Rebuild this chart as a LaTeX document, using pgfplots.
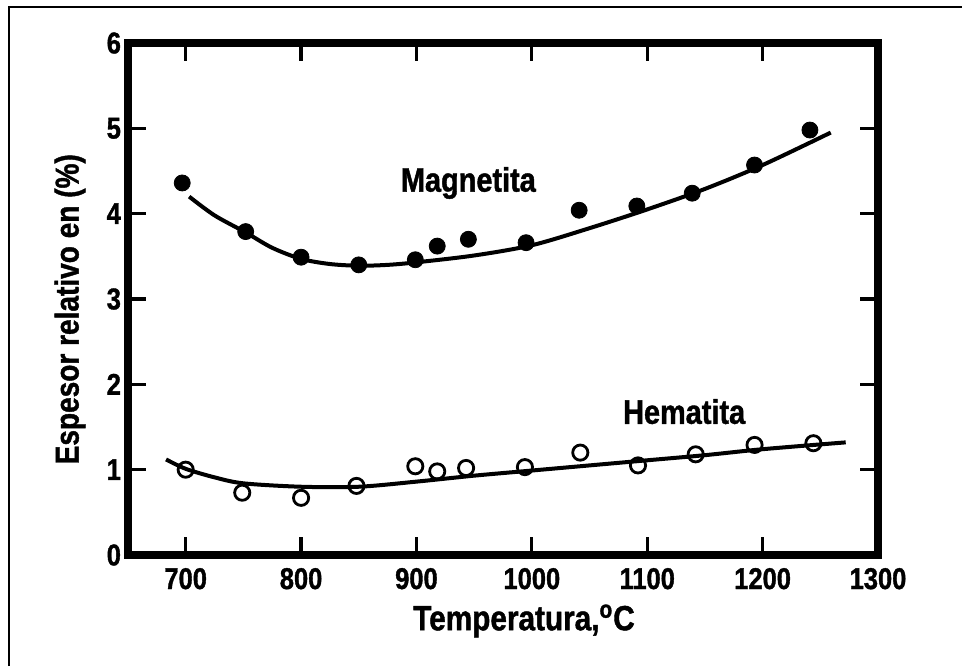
\documentclass[border=0pt]{standalone}
\usepackage{fontspec}
\setmainfont{Liberation Sans}[FakeStretch=0.85, BoldFeatures={FakeBold=1.2}]
\usepackage{pgfplots}
\pgfplotsset{compat=1.18}
\begin{document}
\begin{tikzpicture}
\useasboundingbox (0,0) rectangle (481pt,333pt);
\draw[line width=1.4pt] (4.5pt,0) -- (4.5pt,329.5pt) -- (481pt,329.5pt);
\begin{axis}[
  at={(64pt,55.5pt)}, anchor=south west,
  scale only axis, width=375pt, height=256pt,
  xmin=650, xmax=1300, ymin=0, ymax=6,
  xtick={700,800,...,1300}, ytick={0,1,...,6},
  tick align=inside, major tick length=9pt,
  axis line style={line width=4pt, line cap=rect},
  every tick/.style={line width=1.6pt, black},
  /pgf/number format/1000 sep={},
  /pgf/number format/assume math mode=true,
  ticklabel style={font=\bfseries\fontsize{15}{15}\selectfont},
  xticklabel style={yshift=-3pt},
  xlabel={Temperatura,\textsuperscript{o}C},
  ylabel={Espesor relativo en (\%)},
  xlabel style={font=\bfseries\fontsize{17.5}{17.5}\selectfont, at={(axis description cs:0.528,0)}, anchor=center, yshift=-33pt},
  ylabel style={font=\bfseries\fontsize{16.5}{16.5}\selectfont, at={(axis description cs:-0.0773,0.48)}, anchor=center},
  clip=false,
]
% Magnetita fitted curve
\addplot[black, line width=2pt, smooth] coordinates {
 (703,4.20) (725,3.98) (752,3.78) (775,3.60) (800,3.47) (825,3.41) (850,3.39)
 (875,3.40) (900,3.43) (950,3.51) (1000,3.63) (1050,3.83) (1100,4.05)
 (1150,4.29) (1200,4.57) (1259,4.95)};
% Hematita fitted curve
\addplot[black, line width=2pt, smooth] coordinates {
 (683,1.12) (700,1.01) (725,0.91) (750,0.84) (800,0.80) (850,0.80) (900,0.86)
 (950,0.93) (1000,0.99) (1050,1.05) (1100,1.11) (1150,1.17) (1200,1.24) (1272,1.32)};
% Magnetita data
\addplot[only marks, mark=*, mark size=4pt, black] coordinates {
 (697,4.36) (752,3.79) (800,3.49) (850,3.40) (899,3.46) (918,3.62) (945,3.70)
 (995,3.66) (1041,4.04) (1091,4.09) (1139,4.24) (1193,4.57) (1241,4.98)};
% Hematita data
\addplot[only marks, mark=o, mark size=3.8pt, black, line width=1.4pt] coordinates {
 (700,1.00) (749,0.73) (800,0.67) (848,0.81) (899,1.04) (918,0.98) (943,1.02)
 (994,1.03) (1042,1.20) (1092,1.05) (1142,1.18) (1193,1.29) (1244,1.31)};
\node[font=\bfseries\fontsize{17}{17}\selectfont] at (axis cs:945,4.36) {Magnetita};
\node[font=\bfseries\fontsize{17}{17}\selectfont] at (axis cs:1132,1.68) {Hematita};
\end{axis}
\end{tikzpicture}
\end{document}
